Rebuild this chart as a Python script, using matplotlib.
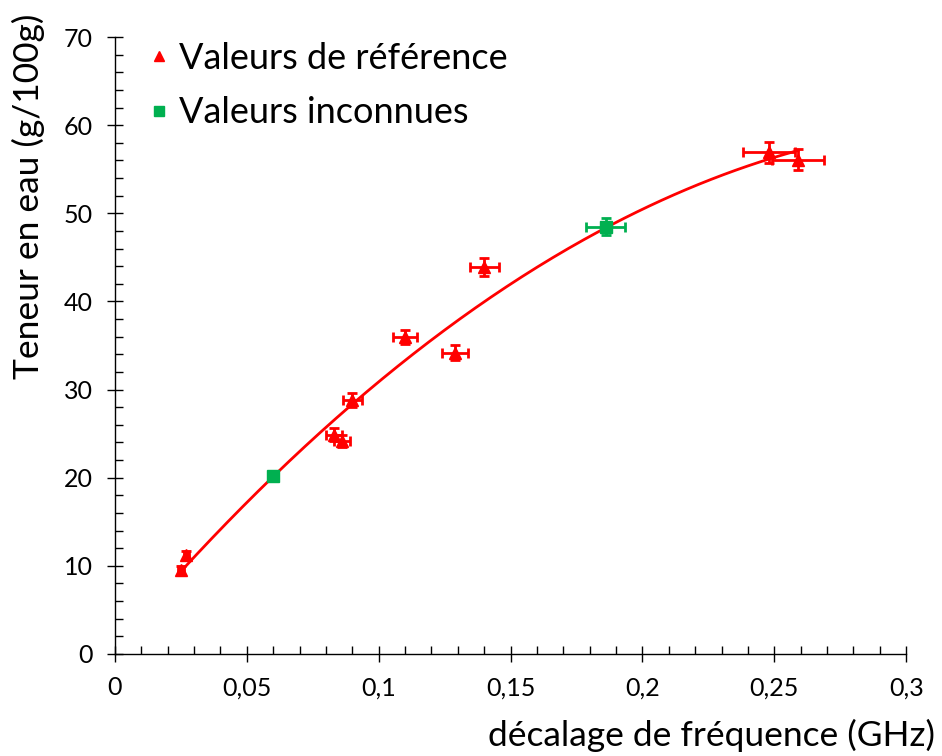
import numpy as np
import matplotlib
matplotlib.use('Agg')
import matplotlib.pyplot as plt
from matplotlib.ticker import MultipleLocator, FuncFormatter

#data
ref_x = [0.025, 0.027, 0.083, 0.086, 0.090, 0.110, 0.129, 0.140, 0.248, 0.259]
ref_y = [9.5, 11.2, 24.9, 24.2, 28.8, 36.0, 34.2, 43.9, 56.9, 56.1]
ref_xerr = [0.001, 0.001, 0.003, 0.003, 0.0035, 0.0045, 0.005, 0.0055, 0.010, 0.010]
ref_yerr = [0.5, 0.5, 0.7, 0.7, 0.8, 0.8, 0.8, 1.0, 1.2, 1.2]

unk_x = [0.060, 0.186]
unk_y = [20.2, 48.5]
unk_xerr = [0.001, 0.0075]
unk_yerr = [0.4, 1.0]

red = '#ff0000'
green = '#00b050'
font = 'Lato'

plt.rcParams['font.family'] = [font, 'DejaVu Sans']

f = plt.figure(figsize=(9.42, 7.56), dpi=100)
ax = f.add_axes([0.122, 0.135, 0.840, 0.816])

#trend line (2nd order fit on reference points)
coef = np.polyfit(ref_x, ref_y, 2)
xx = np.linspace(min(ref_x), max(ref_x), 200)
ax.plot(xx, np.polyval(coef, xx), color=red, lw=2, zorder=2)

ax.errorbar(ref_x, ref_y, xerr=ref_xerr, yerr=ref_yerr, fmt='^', color=red,
            ms=9, elinewidth=2, capsize=3.5, capthick=2, zorder=3,
            label='Valeurs de référence')
ax.errorbar(unk_x, unk_y, xerr=unk_xerr, yerr=unk_yerr, fmt='s', color=green,
            ms=8, elinewidth=2, capsize=3.5, capthick=2, zorder=3,
            label='Valeurs inconnues')

ax.set_xlim(0, 0.3)
ax.set_ylim(0, 70)
ax.xaxis.set_major_locator(MultipleLocator(0.05))
ax.xaxis.set_minor_locator(MultipleLocator(0.01))
ax.yaxis.set_major_locator(MultipleLocator(10))
ax.yaxis.set_minor_locator(MultipleLocator(2))
ax.xaxis.set_major_formatter(FuncFormatter(lambda v, p: ('%g' % round(v, 3)).replace('.', ',')))
ax.yaxis.set_major_formatter(FuncFormatter(lambda v, p: '%d' % v))

ax.spines['right'].set_visible(False)
ax.spines['top'].set_visible(False)
for s in ['left', 'bottom']:
    ax.spines[s].set_linewidth(1)
ax.tick_params(which='major', direction='inout', length=12, width=1, labelsize=18, pad=10)
ax.tick_params(which='minor', direction='in', length=6, width=1)

#legend
handles, labels = ax.get_legend_handles_labels()
handles = [h[0] for h in handles]
leg = ax.legend(handles, labels, loc='upper left', bbox_to_anchor=(0.003, 1.045),
                frameon=False, fontsize=26, handlelength=0.5, handletextpad=0.3,
                labelspacing=0.6, markerscale=0.85)

#labels
f.text(0.030, 0.74, 'Teneur en eau (g/100g)', rotation='vertical', ha='center', va='center', fontsize=25.5)
f.text(0.993, 0.027, 'décalage de fréquence (GHz)', ha='right', va='center', fontsize=25.5)

f.savefig('out.png', dpi=100)
